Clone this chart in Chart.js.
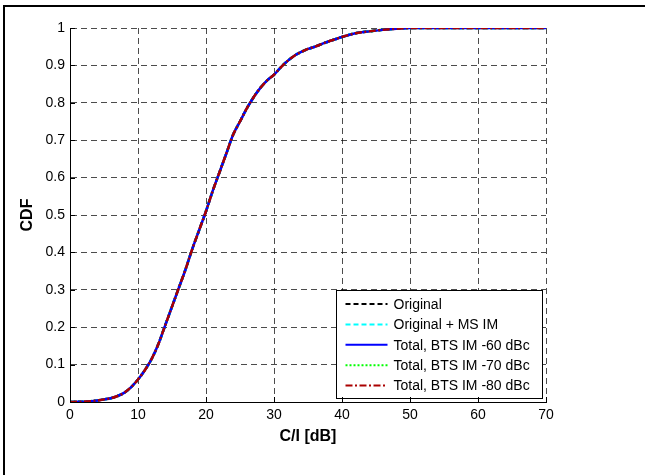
<!DOCTYPE html>
<html>
<head>
<meta charset="utf-8">
<script src="https://cdn.jsdelivr.net/npm/chart.js@4.4.1/dist/chart.umd.min.js"></script>
<style>
  body { margin: 0; background: #fff; }
  #wrap { position: relative; width: 645px; height: 475px; }
  #frameTop { position: absolute; left: 3px; top: 5px; width: 642px; height: 2px; background: #000; }
  #frameLeft { position: absolute; left: 3px; top: 5px; width: 2px; height: 470px; background: #000; }
  canvas { position: absolute; left: 0; top: 0; }
</style>
</head>
<body>
<div id="wrap">
  <canvas id="cdfChart" width="645" height="475"></canvas>
  <div id="frameTop"></div>
  <div id="frameLeft"></div>
</div>
<script>
// C/I values (dB) and CDF; the five curves coincide
const ciDb = [0, 1, 2, 3, 4, 5, 6, 7, 8, 9, 10, 11, 12, 13, 14, 15, 16, 17, 18, 19,
  20, 21, 22, 23, 24, 25, 26, 27, 28, 29, 30, 31, 32, 33, 34, 35, 36, 37, 38, 39,
  40, 42, 44, 46, 48, 50, 55, 60, 65, 70];
const cdf = [0, 0.0005, 0.001, 0.002, 0.004, 0.007, 0.010, 0.016, 0.025, 0.040,
  0.060, 0.085, 0.115, 0.155, 0.205, 0.255, 0.305, 0.355, 0.41, 0.46,
  0.51, 0.565, 0.615, 0.665, 0.715, 0.75, 0.785, 0.815, 0.84, 0.86,
  0.875, 0.895, 0.912, 0.926, 0.936, 0.944, 0.95, 0.957, 0.964, 0.97,
  0.976, 0.986, 0.991, 0.995, 0.998, 1.0, 1.0, 1.0, 1.0, 1.0];

const seriesNames = ['Original', 'Original + MS IM', 'Total, BTS IM -60 dBc',
  'Total, BTS IM -70 dBc', 'Total, BTS IM -80 dBc'];
const seriesColors = ['#000000', '#00ffff', '#0000ff', '#00ff00', '#aa0000'];
const seriesDashes = [[5, 3], [5, 3], [], [2, 2], [7, 2.5, 2, 2.5]];
const drawOrder = [5, 4, 2, 3, 1]; // red on top, blue over green

const xTicks = [0, 10, 20, 30, 40, 50, 60, 70];
const yTickLabels = ['0', '0.1', '0.2', '0.3', '0.4', '0.5', '0.6', '0.7', '0.8', '0.9', '1'];

const points = ciDb.map((x, i) => ({ x: x, y: cdf[i] }));

const datasets = seriesNames.map((name, i) => ({
  label: name,
  data: points,
  borderColor: seriesColors[i],
  borderDash: seriesDashes[i],
  borderWidth: 2.5,
  pointRadius: 0,
  fill: false,
  cubicInterpolationMode: 'monotone',
  order: drawOrder[i]
}));

// small inward tick marks like matlab
const innerTicks = {
  id: 'innerTicks',
  afterDraw(chart) {
    const { ctx, chartArea: a, scales } = chart;
    ctx.save();
    ctx.strokeStyle = '#000';
    ctx.lineWidth = 1;
    ctx.beginPath();
    scales.y.ticks.forEach(t => {
      const y = Math.round(scales.y.getPixelForValue(t.value)) + 0.5;
      ctx.moveTo(a.left, y);
      ctx.lineTo(a.left + 5, y);
    });
    scales.x.ticks.forEach(t => {
      const x = Math.round(scales.x.getPixelForValue(t.value)) + 0.5;
      ctx.moveTo(x, a.bottom);
      ctx.lineTo(x, a.bottom - 5);
    });
    ctx.stroke();
    ctx.restore();
  }
};

// legend box inside the plot, bottom right
const boxLegend = {
  id: 'boxLegend',
  afterDatasetsDraw(chart) {
    const { ctx, chartArea: a } = chart;
    const w = 206, h = 108;
    const x0 = Math.round(a.right - 4 - w) + 0.5;
    const y0 = Math.round(a.bottom - 4 - h) + 0.5;
    ctx.save();
    ctx.fillStyle = '#fff';
    ctx.strokeStyle = '#000';
    ctx.lineWidth = 1;
    ctx.fillRect(x0, y0, w, h);
    ctx.strokeRect(x0, y0, w, h);
    ctx.font = '14px "Liberation Sans", Arial, sans-serif';
    ctx.textBaseline = 'middle';
    ctx.fillStyle = '#000';
    chart.data.datasets.forEach((ds, i) => {
      const y = y0 + 13.5 + i * 20.4;
      ctx.save();
      ctx.strokeStyle = ds.borderColor;
      ctx.lineWidth = 2;
      ctx.setLineDash(ds.borderDash);
      ctx.beginPath();
      ctx.moveTo(x0 + 9, y);
      ctx.lineTo(x0 + 51, y);
      ctx.stroke();
      ctx.restore();
      ctx.fillText(ds.label, x0 + 57, y + 1);
    });
    ctx.restore();
  }
};

Chart.defaults.font.family = '"Liberation Sans", Arial, sans-serif';
Chart.defaults.color = '#000';

const chart = new Chart(document.getElementById('cdfChart'), {
  type: 'line',
  data: { datasets: datasets },
  options: {
    responsive: false,
    animation: false,
    devicePixelRatio: 1,
    layout: { padding: { top: 28, right: 99, bottom: 0, left: 0 } },
    plugins: {
      legend: { display: false },
      tooltip: { enabled: false }
    },
    scales: {
      x: {
        type: 'linear',
        min: 0,
        max: 70,
        afterBuildTicks: s => { s.ticks = xTicks.map(v => ({ value: v })); },
        afterFit: s => { s.height = 73; },
        ticks: { font: { size: 14 }, padding: 5, maxRotation: 0 },
        grid: { color: 'rgba(0,0,0,0.7)', lineWidth: 1, drawTicks: false },
        border: { display: true, color: '#000', width: 1, dash: [6, 4] },
        title: {
          display: true,
          text: 'C/I [dB]',
          font: { size: 16, weight: 'bold' },
          padding: { top: 29, bottom: 29 }
        }
      },
      y: {
        type: 'linear',
        min: 0,
        max: 1,
        ticks: {
          stepSize: 0.1,
          font: { size: 14 },
          padding: 5,
          callback: (v, i) => yTickLabels[i]
        },
        afterFit: s => { s.width = 70; },
        grid: { color: 'rgba(0,0,0,0.7)', lineWidth: 1, drawTicks: false },
        border: { display: true, color: '#000', width: 1, dash: [6, 4] },
        title: {
          display: true,
          text: 'CDF',
          font: { size: 16, weight: 'bold' },
          padding: { top: 18, bottom: 18 }
        }
      }
    }
  },
  plugins: [innerTicks, boxLegend]
});
</script>
</body>
</html>
